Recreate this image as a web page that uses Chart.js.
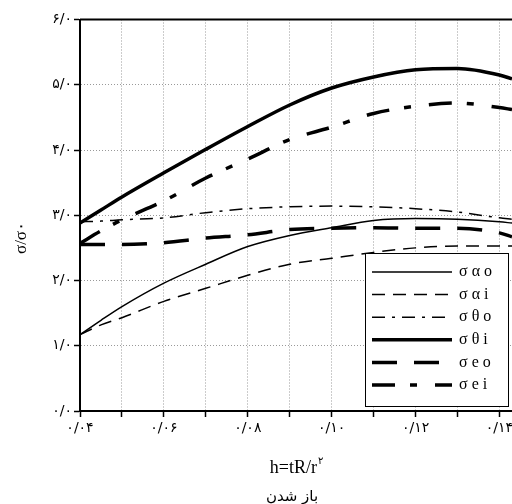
<!DOCTYPE html>
<html>
<head>
<meta charset="utf-8">
<script src="https://cdn.jsdelivr.net/npm/chart.js@4"></script>
<style>
  body { margin: 0; background: #fff; }
</style>
</head>
<body>
<canvas id="stressChart" width="512" height="504"></canvas>
<script>
// h = tR/r^2 values where the curves were read
let xValues = [0.04, 0.045, 0.05, 0.06, 0.07, 0.08, 0.09, 0.10, 0.11, 0.12, 0.13, 0.14, 0.143];

let sigmaAlphaO = [1.17, 1.39, 1.60, 1.96, 2.25, 2.52, 2.69, 2.81, 2.92, 2.95, 2.94, 2.90, 2.88];
let sigmaAlphaI = [1.17, 1.32, 1.43, 1.68, 1.88, 2.08, 2.25, 2.34, 2.43, 2.50, 2.53, 2.53, 2.53];
let sigmaThetaO = [2.90, 2.91, 2.93, 2.96, 3.04, 3.10, 3.13, 3.14, 3.13, 3.10, 3.05, 2.96, 2.94];
let sigmaThetaI = [2.88, 3.08, 3.28, 3.65, 4.01, 4.36, 4.69, 4.95, 5.12, 5.23, 5.25, 5.15, 5.09];
let sigmaEO = [2.55, 2.55, 2.55, 2.58, 2.65, 2.70, 2.78, 2.80, 2.81, 2.80, 2.80, 2.73, 2.67];
let sigmaEI = [2.57, 2.76, 2.93, 3.22, 3.57, 3.86, 4.16, 4.35, 4.56, 4.67, 4.72, 4.65, 4.62];

let seriesLabels = ['σ α o', 'σ α i', 'σ θ o', 'σ θ i', 'σ e o', 'σ e i'];

let xTitle = 'h=tR/r';
let xTitleSup = '۲';
let xSubTitle = 'باز شدن';
let yTitle = 'σ/σ۰';

const faDigits = '۰۱۲۳۴۵۶۷۸۹';
function toFa(s) {
    return s.replace(/\d/g, d => faDigits[d]).replace('.', '/');
}

function points(ys) {
    return xValues.map((x, i) => ({ x: x, y: ys[i] }));
}

function lineSet(label, ys, width, dash) {
    return {
        label: label,
        data: points(ys),
        borderColor: '#000',
        borderWidth: width,
        borderDash: dash,
        pointRadius: 0,
        fill: false,
        tension: 0.4,
        cubicInterpolationMode: 'monotone'
    };
}

const data = {
    datasets: [
        lineSet(seriesLabels[0], sigmaAlphaO, 1.5, []),
        lineSet(seriesLabels[1], sigmaAlphaI, 1.5, [13, 8]),
        lineSet(seriesLabels[2], sigmaThetaO, 1.5, [13, 7, 3, 7]),
        lineSet(seriesLabels[3], sigmaThetaI, 3.5, []),
        lineSet(seriesLabels[4], sigmaEO, 3.5, [25, 17]),
        lineSet(seriesLabels[5], sigmaEI, 3.5, [23, 15, 7, 18])
    ]
};

const framePlugin = {
    id: 'framePlugin',
    afterDatasetsDraw(chart) {
        const ctx = chart.ctx;
        const a = chart.chartArea;
        ctx.save();
        // top frame line
        ctx.strokeStyle = '#000';
        ctx.lineWidth = 2;
        ctx.beginPath();
        ctx.moveTo(a.left, a.top);
        ctx.lineTo(a.right, a.top);
        ctx.stroke();

        // legend box
        const bx = a.right - 147, by = a.top + 233.5, bw = 144, bh = 154;
        ctx.fillStyle = '#fff';
        ctx.fillRect(bx, by, bw, bh);
        ctx.lineWidth = 1;
        ctx.strokeRect(bx + 0.5, by + 0.5, bw - 1, bh - 1);
        ctx.font = '16px "Liberation Serif"';
        ctx.textBaseline = 'middle';
        ctx.fillStyle = '#000';
        chart.data.datasets.forEach((ds, i) => {
            const y = by + 19 + i * 22.6;
            ctx.lineWidth = ds.borderWidth;
            ctx.setLineDash(ds.borderDash);
            ctx.beginPath();
            ctx.moveTo(bx + 7, y);
            ctx.lineTo(bx + 87, y);
            ctx.stroke();
            ctx.setLineDash([]);
            ctx.fillText(ds.label, bx + 94, y);
        });
        ctx.restore();
    },
    afterDraw(chart) {
        const ctx = chart.ctx;
        const a = chart.chartArea;
        const cx = (a.left + a.right) / 2;
        ctx.save();
        ctx.fillStyle = '#000';
        ctx.textBaseline = 'alphabetic';
        // x title with superscript
        ctx.font = '18px "Liberation Serif"';
        const w1 = ctx.measureText(xTitle).width;
        ctx.font = '10px "DejaVu Sans"';
        const w2 = ctx.measureText(xTitleSup).width;
        const start = cx - (w1 + w2) / 2;
        ctx.font = '18px "Liberation Serif"';
        ctx.textAlign = 'left';
        ctx.fillText(xTitle, start, a.bottom + 62);
        ctx.font = '10px "DejaVu Sans"';
        ctx.fillText(xTitleSup, start + w1 + 1, a.bottom + 53);
        // subtitle
        ctx.font = '15px "DejaVu Sans"';
        ctx.textAlign = 'center';
        ctx.fillText(xSubTitle, cx - 4, a.bottom + 90);
        // y title
        ctx.translate(26, 238);
        ctx.rotate(-Math.PI / 2);
        ctx.font = '17px "Liberation Serif"';
        ctx.fillText(yTitle, 0, 0);
        ctx.restore();
    }
};

const tickFont = { family: '"DejaVu Sans"', size: 14 };

const config = {
    type: 'line',
    data: data,
    options: {
        responsive: false,
        animation: false,
        layout: { padding: { top: 19.5, right: 0, bottom: 0, left: 0 } },
        plugins: {
            legend: { display: false },
            tooltip: { enabled: false }
        },
        scales: {
            x: {
                type: 'linear',
                min: 0.04,
                max: 0.143,
                afterFit: s => { s.height = 93; s.paddingRight = 0; s.paddingLeft = 0; },
                ticks: {
                    stepSize: 0.01,
                    includeBounds: false,
                    autoSkip: false,
                    maxRotation: 0,
                    padding: 3,
                    color: '#000',
                    font: tickFont,
                    callback: v => {
                        const k = Math.round(v * 100);
                        if (Math.abs(v * 100 - k) > 1e-6 || k % 2) return '';
                        return toFa((k / 100).toFixed(2));
                    }
                },
                grid: { color: '#999', lineWidth: 1, tickLength: 6, tickColor: '#000', tickWidth: 1.5 },
                border: { color: '#000', width: 2, dash: [1, 2] }
            },
            y: {
                min: 0,
                max: 6,
                afterFit: s => { s.width = 80; s.paddingTop = 0; s.paddingBottom = 0; },
                ticks: {
                    stepSize: 1,
                    padding: 2,
                    color: '#000',
                    font: tickFont,
                    callback: v => toFa(v.toFixed(1))
                },
                grid: { color: '#999', lineWidth: 1, tickLength: 6, tickColor: '#000', tickWidth: 1.5 },
                border: { color: '#000', width: 2, dash: [1, 2] }
            }
        }
    },
    plugins: [framePlugin]
};

const chart = new Chart(document.getElementById('stressChart'), config);
</script>
</body>
</html>
